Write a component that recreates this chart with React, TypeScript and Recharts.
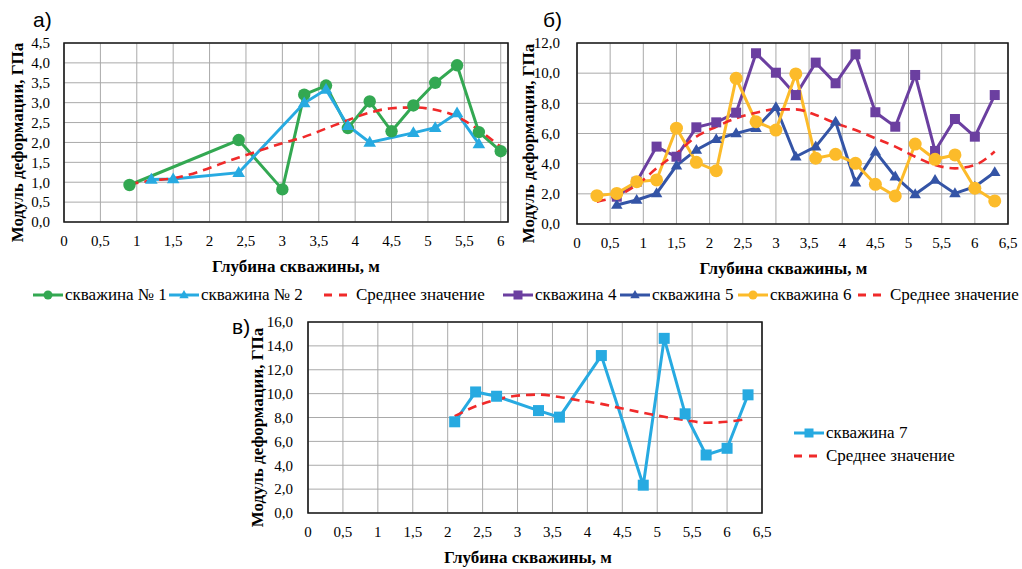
import React from 'react';
import { LineChart, Line, XAxis, YAxis, CartesianGrid, ReferenceArea } from 'recharts';

const SERIF = '"Liberation Serif", "Times New Roman", serif';
const SANS = '"Liberation Sans", Arial, sans-serif';

// ---------- Panel а ----------
const depthA1 = [0.9, 2.4, 3.0, 3.3, 3.6, 3.9, 4.2, 4.5, 4.8, 5.1, 5.4, 5.7, 6.0];
const well1 = [0.93, 2.06, 0.82, 3.2, 3.43, 2.36, 3.03, 2.28, 2.93, 3.5, 3.94, 2.26, 1.78];
const depthA2 = [1.2, 1.5, 2.4, 3.3, 3.6, 3.9, 4.2, 4.8, 5.1, 5.4, 5.7];
const well2 = [1.07, 1.08, 1.24, 2.99, 3.33, 2.42, 2.0, 2.24, 2.37, 2.74, 1.96];
const depthAavg = [0.9, 1.2, 1.5, 2.4, 3.0, 3.3, 3.6, 3.9, 4.2, 4.5, 4.8, 5.1, 5.4, 5.7, 6.0];
const avgA = [0.95, 1.04, 1.1, 1.62, 1.98, 2.14, 2.35, 2.56, 2.75, 2.86, 2.88, 2.82, 2.65, 2.31, 1.89];
const xTicksA = [0, 0.5, 1, 1.5, 2, 2.5, 3, 3.5, 4, 4.5, 5, 5.5, 6];
const yTicksA = [0, 0.5, 1, 1.5, 2, 2.5, 3, 3.5, 4, 4.5];

// ---------- Panel б ----------
const depthB = [0.3, 0.6, 0.9, 1.2, 1.5, 1.8, 2.1, 2.4, 2.7, 3.0, 3.3, 3.6, 3.9, 4.2, 4.5, 4.8, 5.1, 5.4, 5.7, 6.0, 6.3];
const depthB4 = [0.6, 0.9, 1.2, 1.5, 1.8, 2.1, 2.4, 2.7, 3.0, 3.3, 3.6, 3.9, 4.2, 4.5, 4.8, 5.1, 5.4, 5.7, 6.0, 6.3];
const well4 = [1.81, 2.8, 5.13, 4.46, 6.41, 6.74, 7.38, 11.32, 10.03, 8.55, 10.7, 9.33, 11.25, 7.41, 6.45, 9.88, 4.84, 6.96, 5.79, 8.55];
const well5 = [1.26, 1.59, 2.03, 3.87, 4.91, 5.62, 6.01, 6.35, 7.74, 4.46, 5.13, 6.78, 2.74, 4.8, 3.14, 1.97, 2.92, 2.03, 2.47, 3.43];
const well6 = [1.88, 2.03, 2.8, 2.92, 6.35, 4.09, 3.53, 9.66, 6.78, 6.23, 9.95, 4.36, 4.62, 4.02, 2.63, 1.86, 5.3, 4.29, 4.58, 2.37, 1.53];
const avgB = [1.48, 1.85, 2.59, 3.69, 4.69, 5.79, 6.45, 7.01, 7.38, 7.6, 7.6, 7.23, 6.68, 6.23, 5.68, 5.13, 4.46, 3.91, 3.69, 3.91, 4.8];
const xTicksB = [0, 0.5, 1, 1.5, 2, 2.5, 3, 3.5, 4, 4.5, 5, 5.5, 6, 6.5];
const yTicksB = [0, 2, 4, 6, 8, 10, 12];

// ---------- Panel в ----------
const depthC7 = [2.1, 2.4, 2.7, 3.3, 3.6, 4.2, 4.8, 5.1, 5.4, 5.7, 6.0, 6.3];
const well7 = [7.64, 10.14, 9.78, 8.58, 8.03, 13.19, 2.33, 14.63, 8.31, 4.86, 5.42, 9.9];
const depthCavg = [2.1, 2.4, 2.7, 3.0, 3.3, 3.6, 3.9, 4.2, 4.5, 4.8, 5.1, 5.4, 5.7, 6.0, 6.3];
const avgC = [8.11, 8.94, 9.5, 9.83, 9.92, 9.72, 9.42, 9.14, 8.75, 8.39, 8.06, 7.78, 7.56, 7.64, 7.89];
const xTicksC = [0, 0.5, 1, 1.5, 2, 2.5, 3, 3.5, 4, 4.5, 5, 5.5, 6, 6.5];
const yTicksC = [0, 2, 4, 6, 8, 10, 12, 14, 16];

const GREEN = '#33a852';
const CYAN = '#27aae1';
const RED = '#f02a2a';
const PURPLE = '#6b3fa0';
const NAVY = '#3454a6';
const YELLOW = '#fcbb2a';

type Pt = { x: number; y: number };
const zip = (xs: number[], ys: number[]): Pt[] => ys.map((y, i) => ({ x: xs[i], y }));

type Marker = 'circle' | 'triangle' | 'square' | null;
type Series = { name: string; data: Pt[]; color: string; marker: Marker; size: number; dashed?: boolean };

function markerShape(kind: Marker, cx: number, cy: number, s: number, color: string, key?: any) {
  if (kind === 'circle') return <circle key={key} cx={cx} cy={cy} r={s} fill={color} />;
  if (kind === 'square') return <rect key={key} x={cx - s} y={cy - s} width={2 * s} height={2 * s} fill={color} />;
  if (kind === 'triangle')
    return (
      <polygon
        key={key}
        points={`${cx},${cy - s * 1.1} ${cx - s * 1.05},${cy + s * 0.7} ${cx + s * 1.05},${cy + s * 0.7}`}
        fill={color}
      />
    );
  return null;
}

const makeDot = (s: Series) => (p: any) => {
  if (p == null || p.cx == null || p.cy == null) return <g key={p?.index} />;
  return markerShape(s.marker, p.cx, p.cy, s.size, s.color, p.index);
};

const fmtY = (v: number) => v.toFixed(1).replace('.', ',');
const fmtX = (v: number) => String(v).replace('.', ',');

type PanelProps = {
  left: number;
  top: number;
  width: number;
  height: number;
  mTop: number;
  mRight: number;
  yWidth: number;
  xHeight: number;
  xDomain: [number, number];
  xTicks: number[];
  yDomain: [number, number];
  yTicks: number[];
  series: Series[];
  xTitleDx: number;
  yTickMargin: number;
  yTitleGap: number;
};

function Panel(p: PanelProps) {
  const xTitle = (lp: any) => {
    const vb = lp.viewBox || { x: 0, y: 0, width: 0, height: 0 };
    return (
      <text
        x={vb.x + vb.width / 2 + p.xTitleDx}
        y={vb.y + 44}
        textAnchor="middle"
        dominantBaseline="central"
        fontFamily={SERIF}
        fontWeight="bold"
        fontSize={17}
        fill="#000"
      >
        Глубина скважины, м
      </text>
    );
  };
  const yTitle = (lp: any) => {
    const vb = lp.viewBox || { x: 0, y: 0, width: 0, height: 0 };
    const cx = vb.x + vb.width - p.yTitleGap;
    const cy = vb.y + vb.height / 2 + 10;
    return (
      <text
        x={cx}
        y={cy}
        transform={`rotate(-90, ${cx}, ${cy})`}
        textAnchor="middle"
        dominantBaseline="central"
        fontFamily={SERIF}
        fontWeight="bold"
        fontSize={17}
        fill="#000"
      >
        Модуль деформации, ГПа
      </text>
    );
  };
  return (
    <div style={{ position: 'absolute', left: p.left, top: p.top }}>
      <LineChart
        width={p.width}
        height={p.height}
        margin={{ top: p.mTop, right: p.mRight, bottom: 0, left: 0 }}
      >
        <CartesianGrid stroke="#a9a9a9" strokeWidth={1} />
        <XAxis
          dataKey="x"
          type="number"
          domain={p.xDomain}
          ticks={p.xTicks}
          interval={0}
          tickFormatter={fmtX}
          axisLine={false}
          tickLine={false}
          tickMargin={7}
          height={p.xHeight}
          tick={{ fontSize: 15, fill: '#000', fontFamily: SERIF }}
          label={{ content: xTitle }}
          allowDataOverflow
        />
        <YAxis
          type="number"
          domain={p.yDomain}
          ticks={p.yTicks}
          interval={0}
          tickFormatter={fmtY}
          axisLine={false}
          tickLine={false}
          tickMargin={p.yTickMargin}
          width={p.yWidth}
          tick={{ fontSize: 15, fill: '#000', fontFamily: SERIF }}
          label={{ content: yTitle }}
          allowDataOverflow
        />
        <ReferenceArea
          x1={p.xDomain[0]}
          x2={p.xDomain[1]}
          y1={p.yDomain[0]}
          y2={p.yDomain[1]}
          fill="none"
          stroke="#1a1a1a"
          strokeWidth={1.6}
          ifOverflow="visible"
        />
        {p.series.map((s) => (
          <Line
            key={s.name}
            name={s.name}
            data={s.data}
            dataKey="y"
            type={s.dashed ? 'monotone' : 'linear'}
            stroke={s.color}
            strokeWidth={s.dashed ? 2.6 : 3}
            strokeDasharray={s.dashed ? '9 6' : undefined}
            dot={s.marker ? makeDot(s) : false}
            activeDot={false}
            isAnimationActive={false}
          />
        ))}
      </LineChart>
    </div>
  );
}

const seriesA: Series[] = [
  { name: 'скважина № 1', data: zip(depthA1, well1), color: GREEN, marker: 'circle', size: 6.2 },
  { name: 'скважина № 2', data: zip(depthA2, well2), color: CYAN, marker: 'triangle', size: 6 },
  { name: 'Среднее значение', data: zip(depthAavg, avgA), color: RED, marker: null, size: 0, dashed: true },
];
const seriesB: Series[] = [
  { name: 'скважина 4', data: zip(depthB4, well4), color: PURPLE, marker: 'square', size: 5 },
  { name: 'скважина 5', data: zip(depthB4, well5), color: NAVY, marker: 'triangle', size: 5.5 },
  { name: 'скважина 6', data: zip(depthB, well6), color: YELLOW, marker: 'circle', size: 6.5 },
  { name: 'Среднее значение', data: zip(depthB, avgB), color: RED, marker: null, size: 0, dashed: true },
];
const seriesC: Series[] = [
  { name: 'скважина 7', data: zip(depthC7, well7), color: CYAN, marker: 'square', size: 5.5 },
  { name: 'Среднее значение', data: zip(depthCavg, avgC), color: RED, marker: null, size: 0, dashed: true },
];

function LegendItem({ s, left, top }: { s: Series; left: number; top: number }) {
  return (
    <div style={{ position: 'absolute', left, top, display: 'flex', alignItems: 'center', whiteSpace: 'nowrap' }}>
      <svg width={32} height={14} style={{ display: 'block' }}>
        <line
          x1={1}
          y1={7}
          x2={31}
          y2={7}
          stroke={s.color}
          strokeWidth={3}
          strokeDasharray={s.dashed ? '8 7' : undefined}
        />
        {s.marker ? markerShape(s.marker, 16, 7, 4.5, s.color) : null}
      </svg>
      <span style={{ fontFamily: SERIF, fontSize: 17, color: '#000', marginLeft: 1, lineHeight: '17px' }}>{s.name}</span>
    </div>
  );
}

export default function App() {
  const legendRow: { s: Series; left: number }[] = [
    { s: seriesA[0], left: 32 },
    { s: seriesA[1], left: 168 },
    { s: seriesA[2], left: 323 },
    { s: seriesB[0], left: 502 },
    { s: seriesB[1], left: 619 },
    { s: seriesB[2], left: 737 },
    { s: seriesB[3], left: 857 },
  ];
  return (
    <div style={{ position: 'absolute', left: 0, top: 0, width: 1022, height: 569, background: '#fff', overflow: 'hidden' }}>
      <Panel
        left={0}
        top={0}
        width={520}
        height={280}
        mTop={43}
        mRight={12}
        yWidth={64}
        xHeight={58}
        xDomain={[0, 6.1]}
        xTicks={xTicksA}
        yDomain={[0, 4.5]}
        yTicks={yTicksA}
        series={seriesA}
        xTitleDx={10}
        yTickMargin={8}
        yTitleGap={47}
      />
      <Panel
        left={510}
        top={0}
        width={512}
        height={280}
        mTop={43}
        mRight={14}
        yWidth={67}
        xHeight={56}
        xDomain={[0, 6.5]}
        xTicks={xTicksB}
        yDomain={[0, 12]}
        yTicks={yTicksB}
        series={seriesB}
        xTitleDx={-9}
        yTickMargin={11}
        yTitleGap={49}
      />
      <Panel
        left={230}
        top={300}
        width={545}
        height={269}
        mTop={22}
        mRight={13}
        yWidth={78}
        xHeight={56}
        xDomain={[0, 6.5]}
        xTicks={xTicksC}
        yDomain={[0, 16]}
        yTicks={yTicksC}
        series={seriesC}
        xTitleDx={-7}
        yTickMargin={9}
        yTitleGap={51}
      />
      <div style={{ position: 'absolute', left: 33, top: 8, fontFamily: SANS, fontSize: 21, color: '#000' }}>а)</div>
      <div style={{ position: 'absolute', left: 543, top: 8, fontFamily: SANS, fontSize: 21, color: '#000' }}>б)</div>
      <div style={{ position: 'absolute', left: 232, top: 315, fontFamily: SANS, fontSize: 21, color: '#000' }}>в)</div>
      {legendRow.map((it, i) => (
        <LegendItem key={i} s={it.s} left={it.left} top={286} />
      ))}
      <LegendItem s={seriesC[0]} left={793} top={424} />
      <LegendItem s={seriesC[1]} left={793} top={447} />
    </div>
  );
}
